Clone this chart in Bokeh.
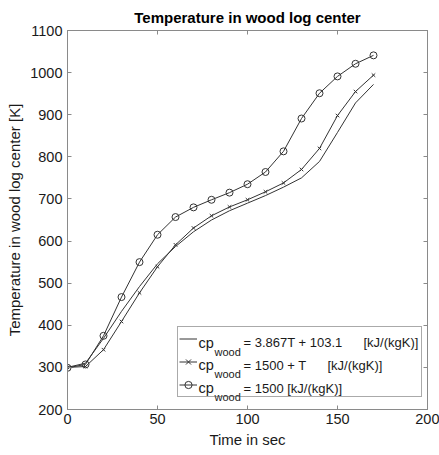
from bokeh.plotting import figure
from bokeh.models import (LinearAxis, FixedTicker, Range1d, Legend, LegendItem, Label)
from bokeh.embed import file_html
from bokeh.resources import INLINE

# ---- data ----
time_s = [0, 10, 20, 30, 40, 50, 60, 70, 80, 90, 100, 110, 120, 130, 140, 150, 160, 170]
temp_linear_cp = [300, 310, 369, 433, 492, 546, 587, 622, 650, 672, 690, 708, 728, 750, 789, 858, 928, 972]
temp_1500_plus_T = [300, 302, 342, 409, 477, 539, 591, 631, 660, 681, 698, 717, 738, 770, 820, 898, 955, 994]
temp_const_1500 = [299, 307, 375, 467, 550, 615, 657, 680, 698, 715, 735, 764, 813, 891, 951, 991, 1021, 1041]

x_ticks = [0, 50, 100, 150, 200]
y_ticks = [200, 300, 400, 500, 600, 700, 800, 900, 1000, 1100]

legend_rows = [
    ("= 3.867T + 103.1", "[kJ/(kgK)]"),
    ("= 1500 +  T", "[kJ/(kgK)]"),
    ("= 1500 [kJ/(kgK)]", ""),
]

FONT = "Liberation Sans"
LINE = "#333333"
AXC = "#8a8a8a"
TXT = "#1a1a1a"

p = figure(width=439, height=455, output_backend="svg", toolbar_location=None,
           x_range=Range1d(0, 200), y_range=Range1d(200, 1100),
           min_border_left=67, min_border_right=12, min_border_top=30, min_border_bottom=46,
           title="Temperature in wood log center")
p.title.align = "center"
p.title.text_font = FONT
p.title.text_font_size = "15px"
p.title.text_font_style = "bold"
p.title.text_color = "black"
p.title.offset = 0

p.xgrid.visible = False
p.ygrid.visible = False
p.outline_line_color = AXC
p.outline_line_width = 1
p.background_fill_color = "white"
p.border_fill_color = "white"

def style_axis(ax, labels=True):
    ax.axis_line_color = AXC
    ax.major_tick_line_color = AXC
    ax.minor_tick_line_color = None
    ax.major_tick_in = 4
    ax.major_tick_out = 0
    ax.major_label_text_font = FONT
    ax.major_label_text_font_size = "14.5px"
    ax.major_label_text_color = TXT
    ax.axis_label_text_font = FONT
    ax.axis_label_text_font_size = "15px"
    ax.axis_label_text_font_style = "normal"
    ax.axis_label_text_color = TXT
    if not labels:
        ax.major_label_text_font_size = "0px"
        ax.major_label_text_color = None

p.xaxis.ticker = FixedTicker(ticks=x_ticks)
p.yaxis.ticker = FixedTicker(ticks=y_ticks)
p.xaxis.axis_label = "Time in sec"
p.yaxis.axis_label = "Temperature in wood log center [K]"
p.xaxis.major_label_standoff = 4
p.yaxis.major_label_standoff = 5
p.xaxis.axis_label_standoff = 4
p.yaxis.axis_label_standoff = 4
style_axis(p.xaxis[0])
style_axis(p.yaxis[0])

top_ax = LinearAxis(ticker=FixedTicker(ticks=x_ticks))
right_ax = LinearAxis(ticker=FixedTicker(ticks=y_ticks))
style_axis(top_ax, labels=False)
style_axis(right_ax, labels=False)
top_ax.major_label_standoff = 0
right_ax.major_label_standoff = 0
p.add_layout(top_ax, "above")
p.add_layout(right_ax, "right")

r1 = p.line(time_s, temp_linear_cp, line_color=LINE, line_width=1)
r2 = p.line(time_s, temp_1500_plus_T, line_color=LINE, line_width=1)
r2m = p.scatter(time_s, temp_1500_plus_T, marker="x", size=5, line_color=LINE, line_width=1)
r3 = p.line(time_s, temp_const_1500, line_color=LINE, line_width=1)
r3m = p.scatter(time_s, temp_const_1500, marker="circle", size=7, line_color=LINE,
                fill_color=None, line_width=1)

legend = Legend(items=[
    LegendItem(label=" ", renderers=[r1]),
    LegendItem(label=" ", renderers=[r2, r2m]),
    LegendItem(label=" ", renderers=[r3, r3m]),
], location=(110, 12))
legend.padding = 1
legend.spacing = 2
legend.glyph_width = 18
legend.glyph_height = 21
legend.label_height = 21
legend.label_width = 220
legend.label_standoff = 3
legend.margin = 0
legend.border_line_color = "#555555"
legend.border_line_width = 1
legend.background_fill_color = None
legend.background_fill_alpha = 0
legend.label_text_font = FONT
legend.label_text_font_size = "13px"
p.add_layout(legend, "center")

# legend texts (screen coordinates relative to the frame's bottom-left corner)
row_y = [67, 44.5, 21.5]
for (eq, unit), y in zip(legend_rows, row_y):
    p.add_layout(Label(x=131, y=y, x_units="screen", y_units="screen", text="cp",
                       text_font=FONT, text_font_size="14.5px", text_color=TXT,
                       text_baseline="alphabetic", level="overlay"))
    p.add_layout(Label(x=147, y=y - 9, x_units="screen", y_units="screen", text="wood",
                       text_font=FONT, text_font_size="11px", text_color=TXT,
                       text_baseline="alphabetic", level="overlay"))
    p.add_layout(Label(x=176, y=y, x_units="screen", y_units="screen", text=eq,
                       text_font=FONT, text_font_size="13px", text_color=TXT,
                       text_baseline="alphabetic", level="overlay"))
    if unit:
        ux = 296 if eq.startswith("= 3") else 260
        p.add_layout(Label(x=ux, y=y, x_units="screen", y_units="screen", text=unit,
                           text_font=FONT, text_font_size="13px", text_color=TXT,
                           text_baseline="alphabetic", level="overlay"))

open("out.html", "w").write(file_html(p, INLINE))
